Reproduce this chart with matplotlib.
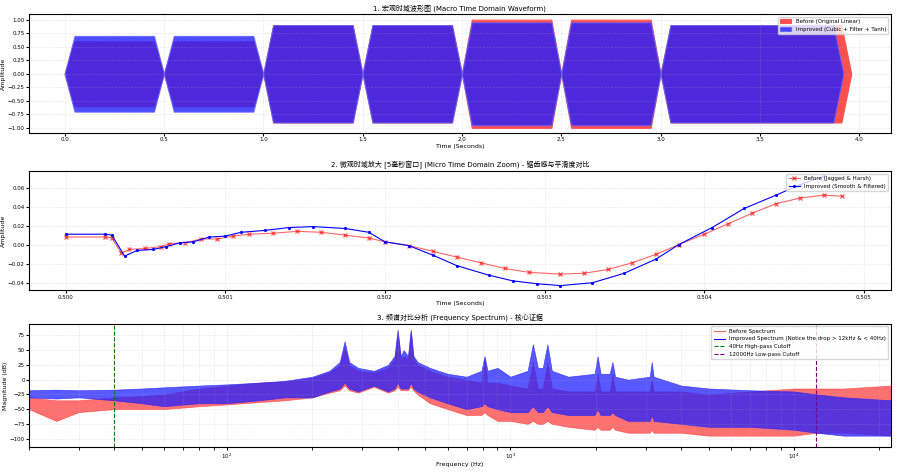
import numpy as np
import matplotlib.pyplot as plt

plt.rcParams['font.family'] = ['DejaVu Sans', 'Noto Sans CJK SC']
plt.rcParams['font.size'] = 4.5

# ---- panel 1: note envelopes ----
note_start = [0.0, 0.5, 1.0, 1.5, 2.0, 2.5, 3.0]
note_end = [0.5, 1.0, 1.5, 2.0, 2.5, 3.0, 3.96]
amp_before = [0.60, 0.60, 0.90, 0.90, 1.00, 1.00, 0.90]
amp_improved = [0.70, 0.70, 0.90, 0.90, 0.95, 0.95, 0.90]

# ---- panel 2: zoomed samples ----
t_before = [0.50000, 0.50025, 0.50029, 0.50035, 0.50040, 0.50050, 0.50060, 0.50065,
            0.50075, 0.50085, 0.50095, 0.50105, 0.50115, 0.50130, 0.50145, 0.50160,
            0.50175, 0.50190, 0.50200, 0.50215, 0.50230, 0.50245, 0.50260, 0.50275,
            0.50290, 0.50310, 0.50325, 0.50340, 0.50355, 0.50370, 0.50384, 0.50400,
            0.50415, 0.50430, 0.50445, 0.50460, 0.50475, 0.50486]
y_before = [0.008, 0.008, 0.007, -0.009, -0.005, -0.004, -0.002, 0.001, 0.002, 0.006,
            0.006, 0.009, 0.011, 0.012, 0.014, 0.013, 0.010, 0.007, 0.003, -0.001,
            -0.007, -0.013, -0.019, -0.025, -0.029, -0.031, -0.030, -0.026, -0.019,
            -0.010, 0.000, 0.011, 0.022, 0.033, 0.043, 0.049, 0.052, 0.051]
t_improved = [0.50000, 0.50025, 0.50029, 0.50037, 0.50045, 0.50055, 0.50063, 0.50072,
              0.50080, 0.50090, 0.50100, 0.50110, 0.50125, 0.50140, 0.50155, 0.50175,
              0.50190, 0.50200, 0.50215, 0.50230, 0.50245, 0.50265, 0.50280, 0.50295,
              0.50310, 0.50330, 0.50350, 0.50370, 0.50384, 0.50405, 0.50425, 0.50445,
              0.50460, 0.50475]
y_improved = [0.011, 0.011, 0.010, -0.012, -0.006, -0.005, -0.002, 0.002, 0.003, 0.008,
              0.009, 0.013, 0.015, 0.018, 0.019, 0.017, 0.013, 0.003, -0.001, -0.011,
              -0.022, -0.032, -0.038, -0.041, -0.043, -0.040, -0.030, -0.015, 0.000,
              0.018, 0.038, 0.052, 0.063, 0.072]

# ---- panel 3: spectrum envelopes (dB) ----
freq = [20, 25, 30, 40, 50, 60, 80, 100, 130, 160,
        200, 230, 250, 260, 270, 290, 330, 370, 390, 400,
        410, 420, 435, 445, 455, 470, 520, 600, 700, 790,
        810, 830, 900, 1000, 1150, 1200, 1250, 1300, 1350, 1400,
        1600, 1980, 2030, 2080, 2240, 2290, 2340, 2600, 3100, 3150,
        3200, 4000, 5000, 7000, 10000, 12000, 15000, 22000]
blue_hi = [-18, -17, -18, -17, -15, -13, -10, -8, -5, -2,
           5, 15, 30, 65, 30, 20, 15, 25, 40, 85,
           40, 50, 40, 85, 40, 30, 20, 10, 5, 15,
           40, 15, 20, 5, 15, 60, 20, 20, 60, 15,
           5, 10, 40, 10, 10, 30, 5, 0, 5, 30,
           5, -10, -15, -18, -20, -25, -30, -35]
blue_lo = [-30, -32, -30, -35, -40, -45, -40, -40, -35, -30,
           -30, -20, -15, -5, -15, -20, -10, -20, -15, -5,
           -15, -15, -15, -5, -15, -20, -30, -40, -50, -45,
           -40, -45, -50, -55, -55, -45, -55, -55, -45, -55,
           -60, -60, -50, -60, -60, -55, -60, -70, -70, -60,
           -70, -75, -80, -80, -85, -90, -95, -95]
red_hi = [-30, -35, -35, -30, -28, -25, -15, -10, -5, -3,
          3, 12, 25, 55, 25, 15, 12, 20, 35, 80,
          35, 40, 35, 80, 35, 25, 15, 5, 0, -5,
          35, -5, -5, -10, -15, 30, -15, -15, 30, -15,
          -20, -20, 10, -20, -20, 10, -20, -20, -20, 0,
          -20, -20, -25, -20, -15, -15, -15, -10]
red_lo = [-50, -70, -55, -50, -50, -50, -45, -42, -38, -35,
          -30, -22, -18, -10, -18, -22, -12, -22, -18, -12,
          -18, -18, -18, -12, -18, -25, -40, -50, -60, -60,
          -55, -60, -70, -70, -75, -70, -75, -75, -70, -75,
          -80, -85, -80, -85, -85, -80, -85, -90, -90, -85,
          -90, -90, -95, -95, -95, -90, -90, -95]
highpass = 40
lowpass = 12000

fig = plt.figure(figsize=(9, 4.76), dpi=100)
ax1 = fig.add_axes([0.032, 0.72, 0.958, 0.25])
ax2 = fig.add_axes([0.032, 0.39, 0.958, 0.25])
ax3 = fig.add_axes([0.032, 0.06, 0.958, 0.26])


def envelope(amps, ends, att=0.05):
    ts, ys = [], []
    for s, e, a in zip(note_start, ends, amps):
        ts += [s, s + att, e - att, e]
        ys += [0, a, a, 0]
    return np.array(ts), np.array(ys)


tb, ab = envelope(amp_before, note_end)
ti, ai = envelope(amp_improved, note_end[:-1] + [3.92])
ax1.fill_between(tb, -ab, ab, color='#ff5050', lw=0.8, edgecolor='#ff5050', label='Before (Original Linear)')
ax1.fill_between(ti, -ai, ai, color='#2020ff', alpha=0.8, lw=0.8, edgecolor='#6060ff',
                 label='Improved (Cubic + Filter + Tanh)')
ax1.set_xlim(-0.18, 4.16)
ax1.set_ylim(-1.1, 1.1)
ax1.set_yticks(np.arange(-1, 1.01, 0.25))
ax1.set_title('1. 宏观时域波形图 (Macro Time Domain Waveform)', fontsize=5, pad=3)
ax1.set_xlabel('Time (Seconds)', labelpad=1)
ax1.set_ylabel('Amplitude', labelpad=1)
ax1.legend(loc='upper right', fontsize=4, framealpha=0.8)

ax2.plot(t_before, y_before, color='red', marker='x', ms=2.5, lw=0.8, alpha=0.6,
         label='Before (Jagged & Harsh)')
ax2.plot(t_improved, y_improved, color='blue', marker='.', ms=2.5, lw=0.8,
         label='Improved (Smooth & Filtered)')
ax2.set_xlim(0.49977, 0.50517)
ax2.set_ylim(-0.048, 0.077)
ax2.set_xticks([0.500, 0.501, 0.502, 0.503, 0.504, 0.505])
ax2.set_xticklabels(['0.500', '0.501', '0.502', '0.503', '0.504', '0.505'])
ax2.set_title('2. 微观时域放大 [5毫秒窗口] (Micro Time Domain Zoom) - 锯齿感与平滑度对比', fontsize=5, pad=3)
ax2.set_xlabel('Time (Seconds)', labelpad=1)
ax2.set_ylabel('Amplitude', labelpad=1)
ax2.legend(loc='upper right', fontsize=4, framealpha=0.8)

ax3.fill_between(freq, red_lo, red_hi, color='#ff4040', alpha=0.75, lw=0.5)
ax3.plot([], [], color='#ff6060', lw=0.8, label='Before Spectrum')
ax3.fill_between(freq, blue_lo, blue_hi, color='#2020ff', alpha=0.75, lw=0.5)
ax3.plot([], [], color='blue', lw=0.8, label='Improved Spectrum (Notice the drop > 12kHz & < 40Hz)')
ax3.axvline(highpass, color='green', ls='--', lw=0.8, label='40Hz High-pass Cutoff')
ax3.axvline(lowpass, color='purple', ls='--', lw=0.8, label='12000Hz Low-pass Cutoff')
ax3.set_xscale('log')
ax3.set_xlim(20, 22000)
ax3.set_ylim(-115, 95)
ax3.set_yticks(np.arange(-100, 76, 25))
ax3.set_title('3. 频谱对比分析 (Frequency Spectrum) - 核心证据', fontsize=5, pad=3)
ax3.set_xlabel('Frequency (Hz)', labelpad=1)
ax3.set_ylabel('Magnitude (dB)', labelpad=1)
ax3.legend(loc='upper right', fontsize=4, framealpha=0.8)

for ax in (ax1, ax2, ax3):
    ax.grid(True, which='both', ls=':', lw=0.4, alpha=0.6)
    ax.tick_params(length=2, pad=1, labelsize=4)

fig.savefig('out.png', dpi=100)
